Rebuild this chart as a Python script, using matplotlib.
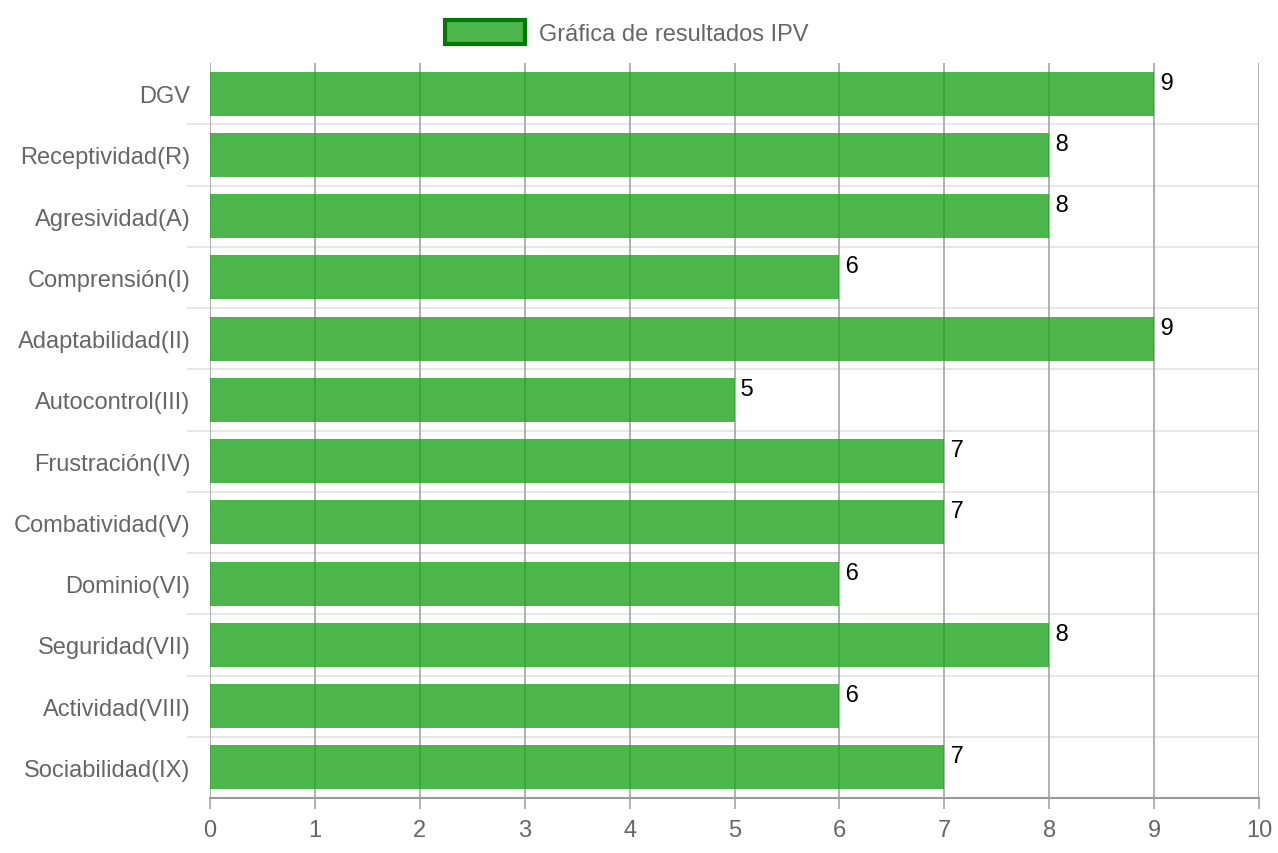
import matplotlib.pyplot as plt
from matplotlib.patches import Patch
import numpy as np

plt.rcParams['font.family'] = ['Liberation Sans', 'DejaVu Sans']

categories = ["DGV", "Receptividad(R)", "Agresividad(A)", "Comprensión(I)",
              "Adaptabilidad(II)", "Autocontrol(III)", "Frustración(IV)",
              "Combatividad(V)", "Dominio(VI)", "Seguridad(VII)",
              "Actividad(VIII)", "Sociabilidad(IX)"]
values = [9, 8, 8, 6, 9, 5, 7, 7, 6, 8, 6, 7]
x_ticks = list(range(0, 11))

BAR = (31 / 255, 163 / 255, 31 / 255, 0.8)   # looks like #4CB54C over white
LEG = "#4CB54C"
EDGE = "#007A00"
GRID = "#ABABAB"
SEP = "#E3E3E3"
TXT = "#666666"
FS = 17

fig = plt.figure(figsize=(12.78, 8.54), dpi=100)
ax = fig.add_axes([210 / 1278, 1 - 799 / 854, 1049 / 1278, 735 / 854])

y = np.arange(len(categories))
ax.barh(y, values, height=0.72, color=BAR, zorder=2)

ax.set_xlim(0, 10)
ax.set_ylim(len(categories) - 0.5, -0.5)
ax.set_xticks(x_ticks)
ax.set_yticks(y)
ax.set_yticklabels(categories)

# grid under the semi-transparent bars
for xv in x_ticks:
    ax.axvline(xv, color=GRID, lw=1.3, zorder=1)
for b in np.arange(0.5, len(categories) - 0.5, 1):
    ax.axhline(b, color=SEP, lw=1.2, zorder=0)

ax.set_yticks(np.arange(0.5, len(categories) - 0.5, 1), minor=True)
ax.tick_params(axis='y', which='major', length=0, pad=14, labelsize=FS, labelcolor=TXT)
ax.tick_params(axis='y', which='minor', length=16.5, color=SEP, width=1.2)
ax.tick_params(axis='x', length=8, color=GRID, width=1.3, labelsize=FS,
               labelcolor=TXT, pad=7)

for s in ["top", "right", "left"]:
    ax.spines[s].set_visible(False)
ax.spines["bottom"].set_color("#999999")
ax.spines["bottom"].set_linewidth(1.5)

for yi, v in zip(y, values):
    ax.text(v, yi - 0.36, " " + str(v), ha="left", va="top", fontsize=FS,
            color="black", zorder=4)

handle = Patch(facecolor=LEG, edgecolor=EDGE, linewidth=3)
fig.legend([handle], ["Gráfica de resultados IPV"], loc="center",
           bbox_to_anchor=(627 / 1278, 1 - 33.5 / 854), frameon=False,
           fontsize=FS, labelcolor=TXT, handlelength=3.4, handleheight=1.15,
           handletextpad=0.6)

fig.savefig("out.png", dpi=100)
